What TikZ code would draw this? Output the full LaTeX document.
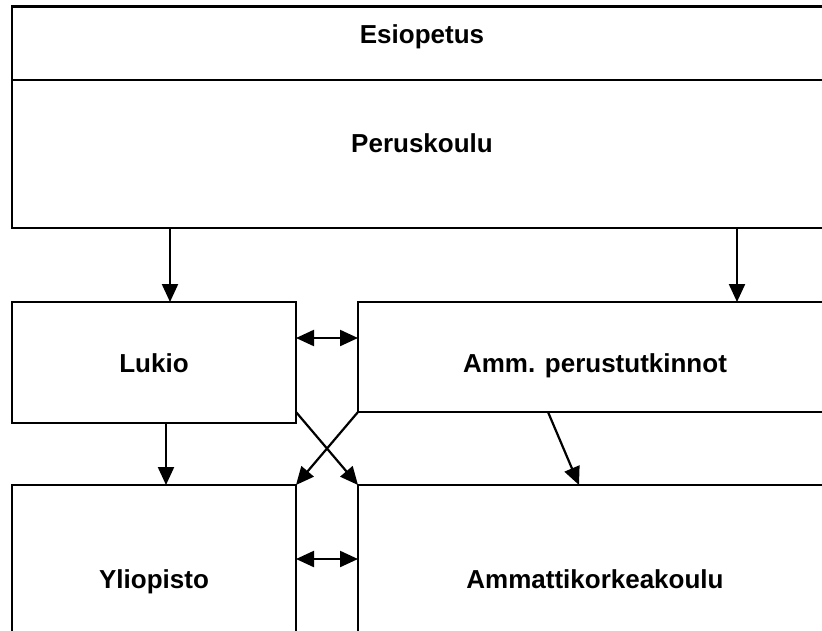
\documentclass[tikz,border=0pt]{standalone}
\usepackage{fontspec}
\setmainfont{Liberation Sans}
\usetikzlibrary{arrows.meta,calc}
\begin{document}
\begin{tikzpicture}[x=1pt,y=-1pt,
  box/.style={draw,line width=2.3pt,inner sep=0pt,outer sep=0pt,rectangle},
  lbl/.style={font=\fontsize{26}{30}\selectfont\bfseries,anchor=base,inner sep=0pt},
  tip/.style={},
  arr/.style={line width=2.2pt,-{Triangle[length=18pt,width=16pt]}},
  darr/.style={line width=2.2pt,{Triangle[length=18pt,width=16pt]}-{Triangle[length=18pt,width=16pt]}}]
\useasboundingbox (0,0) rectangle (822,630);
\clip (0,0) rectangle (822,630);
\fill[white] (0,0) rectangle (822,630);
\node[box,minimum width=820pt,minimum height=73.5pt] (esi) at (422,43.25) {};
\node[box,minimum width=820pt,minimum height=148pt] (per) at (422,154) {};
\node[box,minimum width=284pt,minimum height=121pt] (luk) at (154,362.5) {};
\node[box,minimum width=474pt,minimum height=110pt] (amm) at (595,357) {};
\node[box,minimum width=284pt,minimum height=215pt] (yli) at (154,592.5) {};
\node[box,minimum width=474pt,minimum height=215pt] (amk) at (595,592.5) {};
\node[lbl] (tesi) at (422,43) {Esiopetus};
\node[lbl] (tper) at (422,152) {Peruskoulu};
\node[lbl] (tluk) at (154,372) {Lukio};
\node[lbl] (tamm) at (595,372) {Amm. perustutkinnot};
\node[lbl] (tyli) at (154,588) {Yliopisto};
\node[lbl] (tamk) at (595,588) {Ammattikorkeakoulu};
\draw[arr] ([xshift=16pt]luk.north |- per.south) -- ([xshift=16pt]luk.north);
\draw[arr] ([xshift=142pt]amm.north |- per.south) -- ([xshift=142pt]amm.north);
\draw[arr] ([xshift=12pt]luk.south) -- ([xshift=12pt]luk.south |- yli.north);
\draw[arr] ([xshift=-47pt]amm.south) -- ([xshift=-16pt]amk.north);
\draw[arr] (luk.east |- amm.south) -- (amk.north west);
\draw[arr] (amm.south west) -- (yli.north east);
\draw[darr] ($(luk.north east)+(0,36)$) -- ($(amm.north west)+(0,36)$);
\draw[darr] ($(yli.north east)+(0,74)$) -- ($(amk.north west)+(0,74)$);
\end{tikzpicture}
\end{document}
